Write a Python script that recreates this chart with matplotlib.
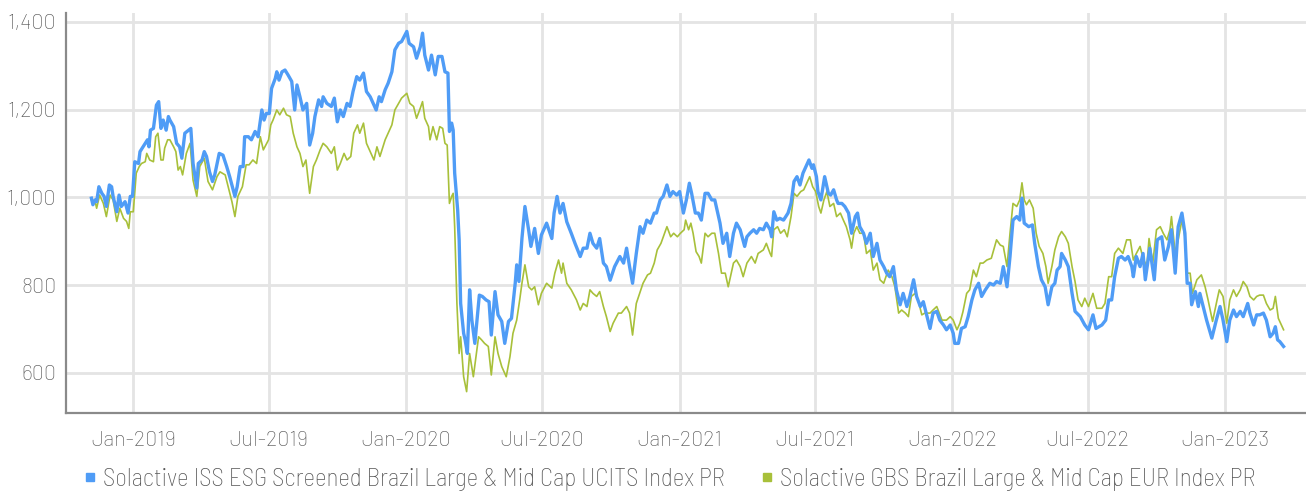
import numpy as np
import matplotlib.pyplot as plt
import matplotlib.dates as mdates
from matplotlib.lines import Line2D
from matplotlib.ticker import FuncFormatter

plt.rcParams['font.family'] = ['Barlow Light', 'Barlow', 'Roboto', 'DejaVu Sans']
plt.rcParams['font.weight'] = 'light'
legend_family = ['Barlow Semi Condensed Light', 'Barlow Semi Condensed', 'Roboto', 'DejaVu Sans']

# index levels, x given as days since 2019-01-01
iss_days = [-56, -54, -51, -49, -46, -42, -39, -36, -32, -29, -27, -22, -19, -16, -11, -7, -4, -1,
            2, 7, 9, 16, 19, 21, 23, 27, 31, 34, 37, 40, 44, 47, 49, 54, 58, 62, 65, 69, 77, 80,
            85, 87, 92, 95, 98, 102, 106, 109, 115, 120, 125, 129, 136, 139, 143, 147, 149, 154,
            158, 163, 167, 172, 175, 178, 182, 185, 190, 192, 195, 199, 203, 207, 212, 216, 219,
            223, 227, 232, 236, 240, 243, 248, 252, 254, 259, 265, 269, 273, 277, 281, 286, 290,
            294, 299, 303, 308, 312, 317, 321, 325, 329, 332, 337, 341, 346, 350, 355, 359, 366,
            369, 375, 379, 384,
            387, 390, 395, 399, 404, 408, 413, 417, 421, 423, 426, 428, 430, 434, 436, 438, 442,
            444, 447, 450, 453, 457, 463, 467, 472, 476, 479, 484, 488, 493, 497, 502, 506, 511,
            513, 516, 520, 524, 529, 532, 537, 542, 546, 553, 560, 563, 567, 571, 575, 580, 586,
            591, 598, 602, 607, 611, 615, 620, 624, 629, 633, 638, 644, 651, 656, 660, 664, 668,
            673, 678, 682, 687, 692, 697, 700, 705, 709, 714, 718, 722, 727, 731, 736, 740, 744,
            747, 752, 756, 760, 765, 769, 774, 778, 785, 789, 794, 798,
            803, 807, 812, 818, 821, 825, 830, 834, 838, 843, 847, 852, 854, 857, 861, 865, 870,
            876, 880, 884, 888, 892, 896, 900, 904, 908, 910, 914, 916, 920, 925, 930, 933, 937,
            941, 943, 948, 952, 957, 961, 966, 969, 972, 977, 981, 986, 990, 995, 999, 1004, 1008,
            1012, 1017, 1021, 1026, 1030, 1035, 1039, 1044, 1048, 1053, 1057, 1062, 1066, 1070,
            1075, 1079, 1084, 1088, 1093, 1097, 1099, 1104, 1108, 1113, 1117, 1122, 1126, 1131,
            1135, 1140, 1146, 1151, 1155, 1160,
            1164, 1169, 1173, 1177, 1182, 1186, 1189, 1192, 1198, 1203, 1206, 1211, 1215, 1220,
            1224, 1229, 1233, 1236, 1240, 1242, 1247, 1251, 1256, 1260, 1267, 1273, 1278, 1284,
            1288, 1296, 1301, 1305, 1309, 1313, 1318, 1322, 1327, 1331, 1336, 1338, 1342, 1347,
            1351, 1354, 1360, 1366, 1370, 1376, 1380, 1385, 1389, 1394, 1398, 1403, 1407, 1410,
            1414, 1416, 1421, 1425, 1427, 1432, 1436, 1443, 1449, 1454, 1458, 1463, 1467, 1472,
            1476, 1481, 1485, 1491, 1494, 1499, 1503, 1507, 1512, 1516, 1521, 1525, 1528, 1531,
            1534, 1539]
iss_vals = [998, 983, 994, 990, 1024, 1009, 1002, 979, 1028, 1024, 1002, 967, 1005, 979, 990, 964, 1002, 1002,
            1081, 1077, 1104, 1123, 1131, 1115, 1153, 1157, 1210, 1218, 1157, 1176, 1153, 1184, 1176, 1161, 1123, 1115, 1089, 1146, 1157, 1077,
            1021, 1077, 1085, 1104, 1093, 1058, 1036, 1051, 1100, 1096, 1070, 1047, 1002, 1024, 1070, 1070, 1138, 1138,
            1131, 1150, 1138, 1199, 1176, 1191, 1191, 1248, 1271, 1286, 1267, 1286, 1290, 1279, 1264, 1199, 1256,
            1229, 1199, 1214, 1119, 1146, 1184, 1222, 1207, 1229, 1214, 1207, 1226, 1172, 1199, 1184, 1214, 1207,
            1241, 1275, 1267, 1283, 1241, 1229, 1214, 1199, 1229, 1218, 1245, 1260, 1286, 1336, 1351, 1355, 1378,
            1351, 1343, 1317, 1343,
            1374, 1324, 1290, 1324, 1279, 1321, 1321, 1286, 1283, 1150, 1169, 1153, 1055, 971, 903, 758, 690,
            675, 644, 789, 720, 667, 777, 774, 766, 762, 686, 785, 732, 717, 667, 717, 724, 804,
            846, 808, 906, 979, 925, 888, 929, 872, 914, 941, 906, 964, 1002, 964, 986, 944, 918,
            895, 865, 884, 884, 918, 895, 884, 906, 850, 842, 811, 842, 865, 850, 884, 842, 804,
            872, 933, 918, 948, 941, 964, 964, 994, 1002, 1028, 1002, 1013, 1005, 1013, 964, 994, 1032,
            1009, 964, 964, 948, 1009, 1009, 994, 994, 941, 895, 918, 865,
            918, 941, 926, 888, 910, 918, 926, 918, 929, 926, 941, 926, 910, 967, 948, 952, 948,
            964, 986, 1036, 1047, 1028, 1055, 1070, 1085, 1066, 1074, 1047, 1013, 994, 1047, 1009, 1005, 1017,
            994, 986, 986, 979, 964, 918, 956, 964, 933, 918, 895, 918, 865, 895, 857, 842, 827,
            819, 842, 789, 755, 781, 751, 774, 812, 774, 751, 762, 728, 701, 736,
            740, 720, 709, 698, 709, 690, 667, 667, 701, 705, 728, 766, 789, 804,
            774, 789, 804, 800, 808, 804,
            842, 796, 865, 948, 956, 948, 998, 941, 933, 937, 895, 842, 812, 796,
            755, 796, 804, 834, 842, 872, 857, 842, 781, 740, 728, 709, 698, 732,
            701, 709, 720, 766, 766, 819, 861, 865, 857, 865, 842, 819, 865, 842,
            872, 812, 884, 812, 903, 910, 857, 888, 926, 827, 933, 964, 918, 804,
            804, 755, 785, 751, 781, 747, 720, 679, 720, 751, 720, 671, 720, 743,
            728, 740, 728, 758, 736, 709, 732, 732, 736, 720, 682, 690, 705, 675,
            671, 660]

gbs_days = [-56, -51, -49, -45, -40, -36, -31, -27, -22, -18, -13, -9, -6, -4, 0, 4, 8, 11, 16, 18,
            22, 27, 30, 33, 37, 40, 42, 46, 49, 54, 57, 60, 63, 66, 71, 76, 80, 85, 89, 95, 100,
            106, 112, 116, 123, 127, 132, 136, 140, 146, 151, 155, 160, 165, 170, 174, 181, 184,
            187, 192, 196, 201, 205, 210, 214, 219, 223, 227, 231, 236, 241, 245, 250, 254, 259,
            265, 269, 273, 277, 282, 286, 291, 295, 300, 303, 308, 312, 318, 322, 326, 330, 337,
            341, 346, 350, 355, 359, 366, 370, 375, 379, 384,
            387, 390, 395, 397, 401, 406, 410, 414, 417, 420, 423, 426, 428, 430, 433, 436, 438,
            442, 446, 450, 455, 462, 466, 470, 475, 479, 484, 488, 493, 499, 504, 508, 513, 517,
            520, 524, 529, 533, 537, 542, 546, 553, 560, 564, 569, 573, 575, 580, 586, 593, 598,
            602, 607, 611, 615, 620, 624, 629, 633, 638, 642, 649, 653, 660, 664, 668, 673, 679,
            682, 688, 692, 697, 701, 706, 710, 714, 719, 723, 728, 732, 737, 739, 743, 746, 749,
            753, 757, 760, 765, 769, 774, 778, 783, 787, 792, 796,
            803, 807, 812, 816, 821, 827, 832, 836, 843, 847, 852, 854, 857, 862, 866, 871, 875,
            880, 884, 888, 893, 897, 901, 905, 909, 913, 917, 920, 924, 928, 932, 937, 941, 946,
            950, 954, 959, 961, 964, 968, 972, 977, 981, 986, 990, 995, 999, 1004, 1010, 1015,
            1019, 1024, 1028, 1033, 1037, 1041, 1046, 1050, 1055, 1059, 1066, 1070, 1075, 1082,
            1088, 1093, 1097, 1102, 1106, 1110, 1115, 1119, 1124, 1128, 1133, 1137, 1142, 1148,
            1155,
            1160, 1164, 1169, 1173, 1177, 1182, 1186, 1189, 1192, 1195, 1199, 1204, 1208, 1212,
            1217, 1221, 1224, 1229, 1233, 1238, 1242, 1247, 1251, 1256, 1260, 1264, 1269, 1273,
            1278, 1284, 1289, 1296, 1300, 1305, 1309, 1313, 1318, 1324, 1329, 1334, 1338, 1342,
            1347, 1351, 1356, 1359, 1364, 1369, 1374, 1378, 1383, 1387, 1389, 1394, 1398, 1403,
            1407, 1410, 1414, 1417, 1423, 1429, 1434, 1438, 1444, 1450, 1453, 1458, 1463, 1467,
            1472, 1476, 1481, 1485, 1490, 1494, 1499, 1503, 1507, 1512, 1516, 1521, 1525, 1528,
            1532, 1539]
gbs_vals = [994, 990, 975, 1005, 986, 956, 1005, 994, 945, 975, 952, 945, 929, 967, 967, 1055, 1070, 1077, 1081, 1100,
            1085, 1081, 1138, 1146, 1085, 1085, 1112, 1131, 1131, 1115, 1104, 1062, 1070, 1051, 1100, 1123, 1039, 1002, 1070, 1089, 1036,
            1017, 1047, 1058, 1051, 1024, 990, 956, 1002, 1024, 1074, 1074, 1085, 1077, 1138, 1108, 1131, 1165,
            1176, 1199, 1188, 1203, 1188, 1184, 1146, 1115, 1100, 1070, 1085, 1009, 1070, 1085, 1108, 1123, 1115,
            1100, 1115, 1062, 1077, 1100, 1085, 1093, 1146, 1165, 1146, 1169, 1123, 1100, 1085, 1115, 1093, 1131,
            1146, 1165, 1199, 1214, 1226, 1237, 1214, 1207, 1180, 1203,
            1218, 1180, 1161, 1131, 1161, 1131, 1161, 1157, 1123, 1119, 986, 1002, 1009, 933, 758, 644, 682,
            591, 557, 644, 591, 682, 675, 667, 660, 595, 682, 644, 614, 591, 637, 690, 720, 766,
            804, 846, 796, 789, 796, 755, 781, 804, 793, 827, 857, 827, 850, 804, 789, 766, 743,
            758, 751, 789, 781, 774, 785, 751, 728, 694, 713, 736, 736, 751, 736, 686, 758, 789,
            804, 823, 827, 850, 880, 895, 914, 933, 910, 918, 910, 918, 926, 948, 926, 941, 918,
            876, 865, 850, 918, 910, 918, 918, 872, 827, 827, 796,
            850, 857, 842, 819, 850, 865, 850, 872, 880, 895, 872, 865, 926, 933, 918, 926, 910,
            956, 1009, 1002, 1013, 1017, 1032, 1047, 1024, 1013, 979, 964, 994, 1013, 979, 986, 956, 964,
            948, 933, 903, 884, 918, 933, 918, 918, 872, 880, 834, 850, 812, 804, 834, 819,
            796, 736, 743, 736, 728, 774, 781, 766, 732, 736, 736, 743, 751, 720,
            720, 728, 720, 698, 713, 739, 781, 789, 834, 819, 850, 850, 857, 861,
            903,
            891, 888, 842, 918, 986, 979, 994, 1033, 994, 983, 994, 975, 918, 888,
            872, 842, 804, 842, 880, 910, 922, 910, 895, 842, 808, 766, 751, 770,
            751, 781, 747, 747, 758, 819, 819, 872, 884, 872, 903, 903, 857, 872,
            888, 861, 842, 906, 850, 926, 933, 918, 903, 926, 956, 872, 903, 948,
            910, 827, 827, 781, 812, 823, 796, 766, 717, 766, 789, 774, 713, 766,
            789, 774, 789, 808, 796, 774, 766, 774, 777, 777, 758, 743, 747, 774,
            724, 698]

series_labels = ['Solactive ISS ESG Screened Brazil Large & Mid Cap UCITS Index PR',
                 'Solactive GBS Brazil Large & Mid Cap EUR Index PR']
series_colors = ['#4f9cf6', '#a8c03a']
y_ticks = [600, 800, 1000, 1200, 1400]

base = np.datetime64('2019-01-01')
iss_dates = base + np.array(iss_days).astype('timedelta64[D]')
gbs_dates = base + np.array(gbs_days).astype('timedelta64[D]')

W, H = 1306, 493
fig = plt.figure(figsize=(W / 100, H / 100), dpi=100)
ax = fig.add_axes([66 / W, 1 - 412.7 / H, 1 - 66 / W, (412.7 - 13) / H])

ax.plot(gbs_dates, gbs_vals, color=series_colors[1], lw=1.2, zorder=3)
ax.plot(iss_dates, iss_vals, color=series_colors[0], lw=2.4, zorder=4)

ax.set_ylim(509, 1420)
ax.set_xlim(np.datetime64('2018-10-03'), np.datetime64('2023-04-19'))
ax.set_yticks(y_ticks)
ax.yaxis.set_major_formatter(FuncFormatter(lambda v, p: f'{v:,.0f}'))
ax.xaxis.set_major_locator(mdates.MonthLocator(bymonth=[1, 7]))
ax.xaxis.set_major_formatter(mdates.DateFormatter('%b-%Y'))

ax.grid(True, color='#e4e4e4', lw=2)
ax.set_axisbelow(True)
for s in ['top', 'right']:
    ax.spines[s].set_visible(False)
for s in ['left', 'bottom']:
    ax.spines[s].set_color('#8a8a8a')
    ax.spines[s].set_linewidth(1.6)
ax.tick_params(axis='both', length=0, labelsize=15.5, labelcolor='#555555')
ax.tick_params(axis='x', pad=13)
ax.tick_params(axis='y', pad=7)

handles = [Line2D([], [], ls='', marker='s', markersize=6.3, color=c) for c in series_colors]
fig.legend(handles, series_labels, loc='center left', bbox_to_anchor=(84 / W, 0.027),
           ncol=2, frameon=False, handlelength=0.5, handletextpad=0.25,
           columnspacing=1.45, labelcolor='#555555', borderaxespad=0, borderpad=0,
           prop={'family': legend_family, 'weight': 'light', 'size': 18})

fig.savefig('out.png', dpi=100)
